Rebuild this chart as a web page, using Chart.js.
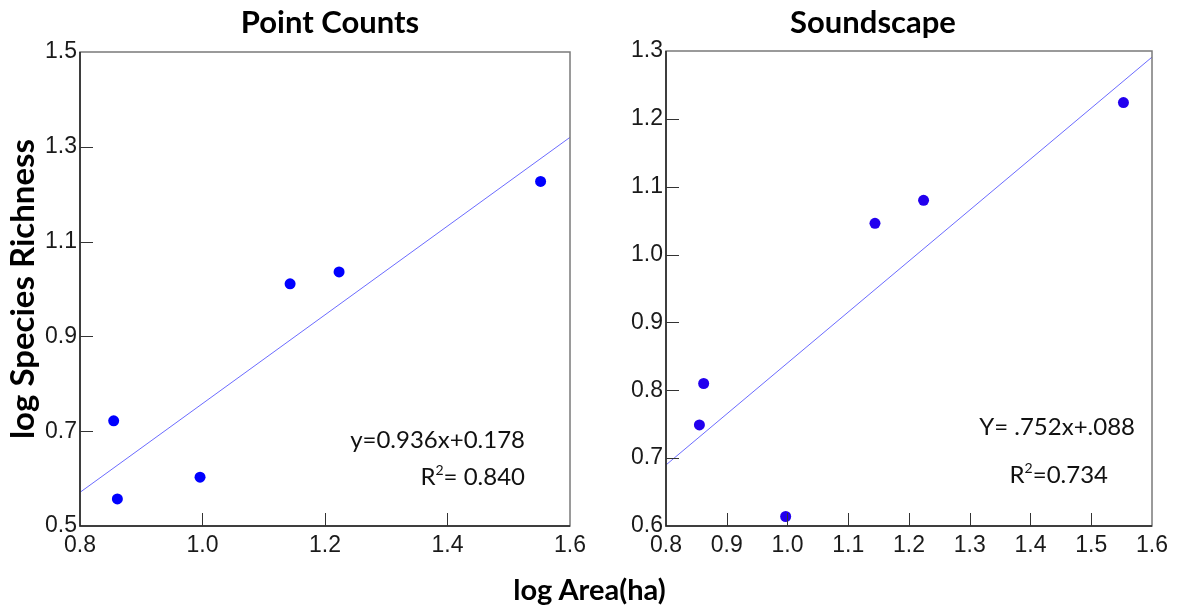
<!DOCTYPE html>
<html>
<head>
<meta charset="utf-8">
<script src="https://cdn.jsdelivr.net/npm/chart.js@4/dist/chart.umd.min.js"></script>
<style>
  html, body { margin: 0; padding: 0; background: #fff; }
  #wrap { position: relative; width: 1179px; height: 611px; overflow: hidden; }
  .box { position: absolute; top: 0; }
  .note { position: absolute; font-family: Lato, "Open Sans", sans-serif; font-size: 24px; color: #111; white-space: nowrap; text-align: right; }
  .ttl { position: absolute; top: 2px; width: 400px; text-align: center; font-family: Lato, sans-serif; font-weight: bold; font-size: 31px; color: #000; }
  #xTitle { position: absolute; left: 0; width: 1179px; top: 571px; text-align: center; font-family: Lato, sans-serif; font-weight: bold; font-size: 29px; color: #000; margin-left: 0px; }
</style>
</head>
<body>
<div id="wrap">
  <div class="box" style="left:0;width:600px;height:611px"><canvas id="pointCounts"></canvas></div>
  <div class="box" style="left:600px;width:579px;height:611px"><canvas id="soundscape"></canvas></div>
  <div class="ttl" style="left:130px">Point Counts</div>
  <div class="ttl" style="left:673px">Soundscape</div>
  <div class="note" style="right:654px;top:424px">y=0.936x+0.178</div>
  <div class="note" style="right:654px;top:461px">R<sup style="font-size:14px;vertical-align:10px">2</sup>= 0.840</div>
  <div class="note" style="right:44px;top:411px">Y= .752x+.088</div>
  <div class="note" style="right:71px;top:459px">R<sup style="font-size:14px;vertical-align:10px">2</sup>=0.734</div>
  <div id="xTitle">log Area(ha)</div>
</div>
<script>
// Point Counts
const pcX = [0.855, 0.861, 0.996, 1.143, 1.223, 1.552];
const pcY = [0.722, 0.557, 0.603, 1.011, 1.036, 1.227];
const pcLineX = [0.8, 1.6];
const pcLineY = [0.571, 1.320];
const pcXTicks = [0.8, 1.0, 1.2, 1.4, 1.6];
const pcYTicks = [0.5, 0.7, 0.9, 1.1, 1.3, 1.5];

// Soundscape
const ssX = [0.855, 0.862, 0.997, 1.144, 1.224, 1.553];
const ssY = [0.749, 0.810, 0.614, 1.046, 1.080, 1.224];
const ssLineX = [0.8, 1.6];
const ssLineY = [0.690, 1.291];
const ssXTicks = [0.8, 0.9, 1.0, 1.1, 1.2, 1.3, 1.4, 1.5, 1.6];
const ssYTicks = [0.6, 0.7, 0.8, 0.9, 1.0, 1.1, 1.2, 1.3];

const tickFont = { family: '"Liberation Sans Narrow", "Liberation Sans", Arial, sans-serif', size: 23 };

// frame + inward tick marks
const framePlugin = {
    id: 'frame',
    afterDraw(chart) {
        const ctx = chart.ctx;
        const a = chart.chartArea;
        ctx.save();
        ctx.strokeStyle = '#7a7a7a';
        ctx.lineWidth = 1.5;
        ctx.strokeRect(a.left, a.top, a.right - a.left, a.bottom - a.top);
        ctx.strokeStyle = '#222';
        ctx.beginPath();
        ctx.moveTo(a.left, a.top);
        ctx.lineTo(a.left, a.bottom);
        ctx.lineTo(a.right, a.bottom);
        ctx.stroke();
        ctx.lineWidth = 1;
        ctx.strokeStyle = '#333';
        const xs = chart.scales.x, ys = chart.scales.y;
        ctx.beginPath();
        xs.ticks.forEach(t => {
            if (t.value <= xs.min || t.value >= xs.max) return;
            const px = Math.round(xs.getPixelForValue(t.value)) + 0.5;
            ctx.moveTo(px, a.bottom);
            ctx.lineTo(px, a.bottom - 13);
        });
        ys.ticks.forEach(t => {
            if (t.value <= ys.min || t.value >= ys.max) return;
            const py = Math.round(ys.getPixelForValue(t.value)) + 0.5;
            ctx.moveTo(a.left, py);
            ctx.lineTo(a.left + 13, py);
        });
        ctx.stroke();
        ctx.restore();
    }
};

function makeChart(id, opts) {
    const pts = opts.xs.map((x, i) => ({ x: x, y: opts.ys[i] }));
    const line = opts.lineX.map((x, i) => ({ x: x, y: opts.lineY[i] }));
    return new Chart(document.getElementById(id), {
        type: 'scatter',
        data: {
            datasets: [{
                data: pts,
                pointRadius: 5.5,
                pointBackgroundColor: opts.dotColor,
                pointBorderWidth: 0,
                order: 1
            }, {
                data: line,
                showLine: true,
                borderColor: '#6b6bff',
                borderWidth: 1,
                pointRadius: 0,
                order: 2
            }]
        },
        options: {
            responsive: true,
            maintainAspectRatio: false,
            animation: false,
            layout: { padding: { left: 0, right: opts.padRight, top: opts.padTop, bottom: 0 } },
            plugins: {
                legend: { display: false },
                tooltip: { enabled: false },
                title: { display: false }
            },
            scales: {
                x: {
                    type: 'linear',
                    min: opts.xTicks[0],
                    max: opts.xTicks[opts.xTicks.length - 1],
                    afterBuildTicks: s => { s.ticks = opts.xTicks.map(v => ({ value: v })); },
                    afterFit: s => { s.height = 85; },
                    grid: { display: false, drawTicks: false },
                    border: { display: false },
                    ticks: {
                        color: '#1a1a1a',
                        font: tickFont,
                        padding: 6,
                        maxRotation: 0,
                        autoSkip: false,
                        callback: v => v.toFixed(1)
                    }
                },
                y: {
                    type: 'linear',
                    min: opts.yTicks[0],
                    max: opts.yTicks[opts.yTicks.length - 1],
                    afterBuildTicks: s => { s.ticks = opts.yTicks.map(v => ({ value: v })); },
                    afterFit: s => { s.width = opts.yWidth; },
                    grid: { display: false, drawTicks: false },
                    border: { display: false },
                    title: {
                        display: !!opts.yTitle,
                        text: opts.yTitle || '',
                        color: '#000',
                        font: { family: 'Lato, "Open Sans", sans-serif', size: 33, weight: 'bold', lineHeight: 1.2 },
                        padding: { top: 4, bottom: 0 }
                    },
                    ticks: {
                        color: '#1a1a1a',
                        font: tickFont,
                        padding: 3,
                        autoSkip: false,
                        callback: v => v.toFixed(1)
                    }
                }
            }
        },
        plugins: [framePlugin]
    });
}

makeChart('pointCounts', {
    xs: pcX, ys: pcY, lineX: pcLineX, lineY: pcLineY,
    xTicks: pcXTicks, yTicks: pcYTicks,
    yTitle: 'log Species Richness',
    yWidth: 80, padRight: 30, padTop: 52, dotColor: '#0000ff'
});

makeChart('soundscape', {
    xs: ssX, ys: ssY, lineX: ssLineX, lineY: ssLineY,
    xTicks: ssXTicks, yTicks: ssYTicks,
    yTitle: null,
    yWidth: 66, padRight: 27, padTop: 51, dotColor: '#2200ee'
});
</script>
</body>
</html>
